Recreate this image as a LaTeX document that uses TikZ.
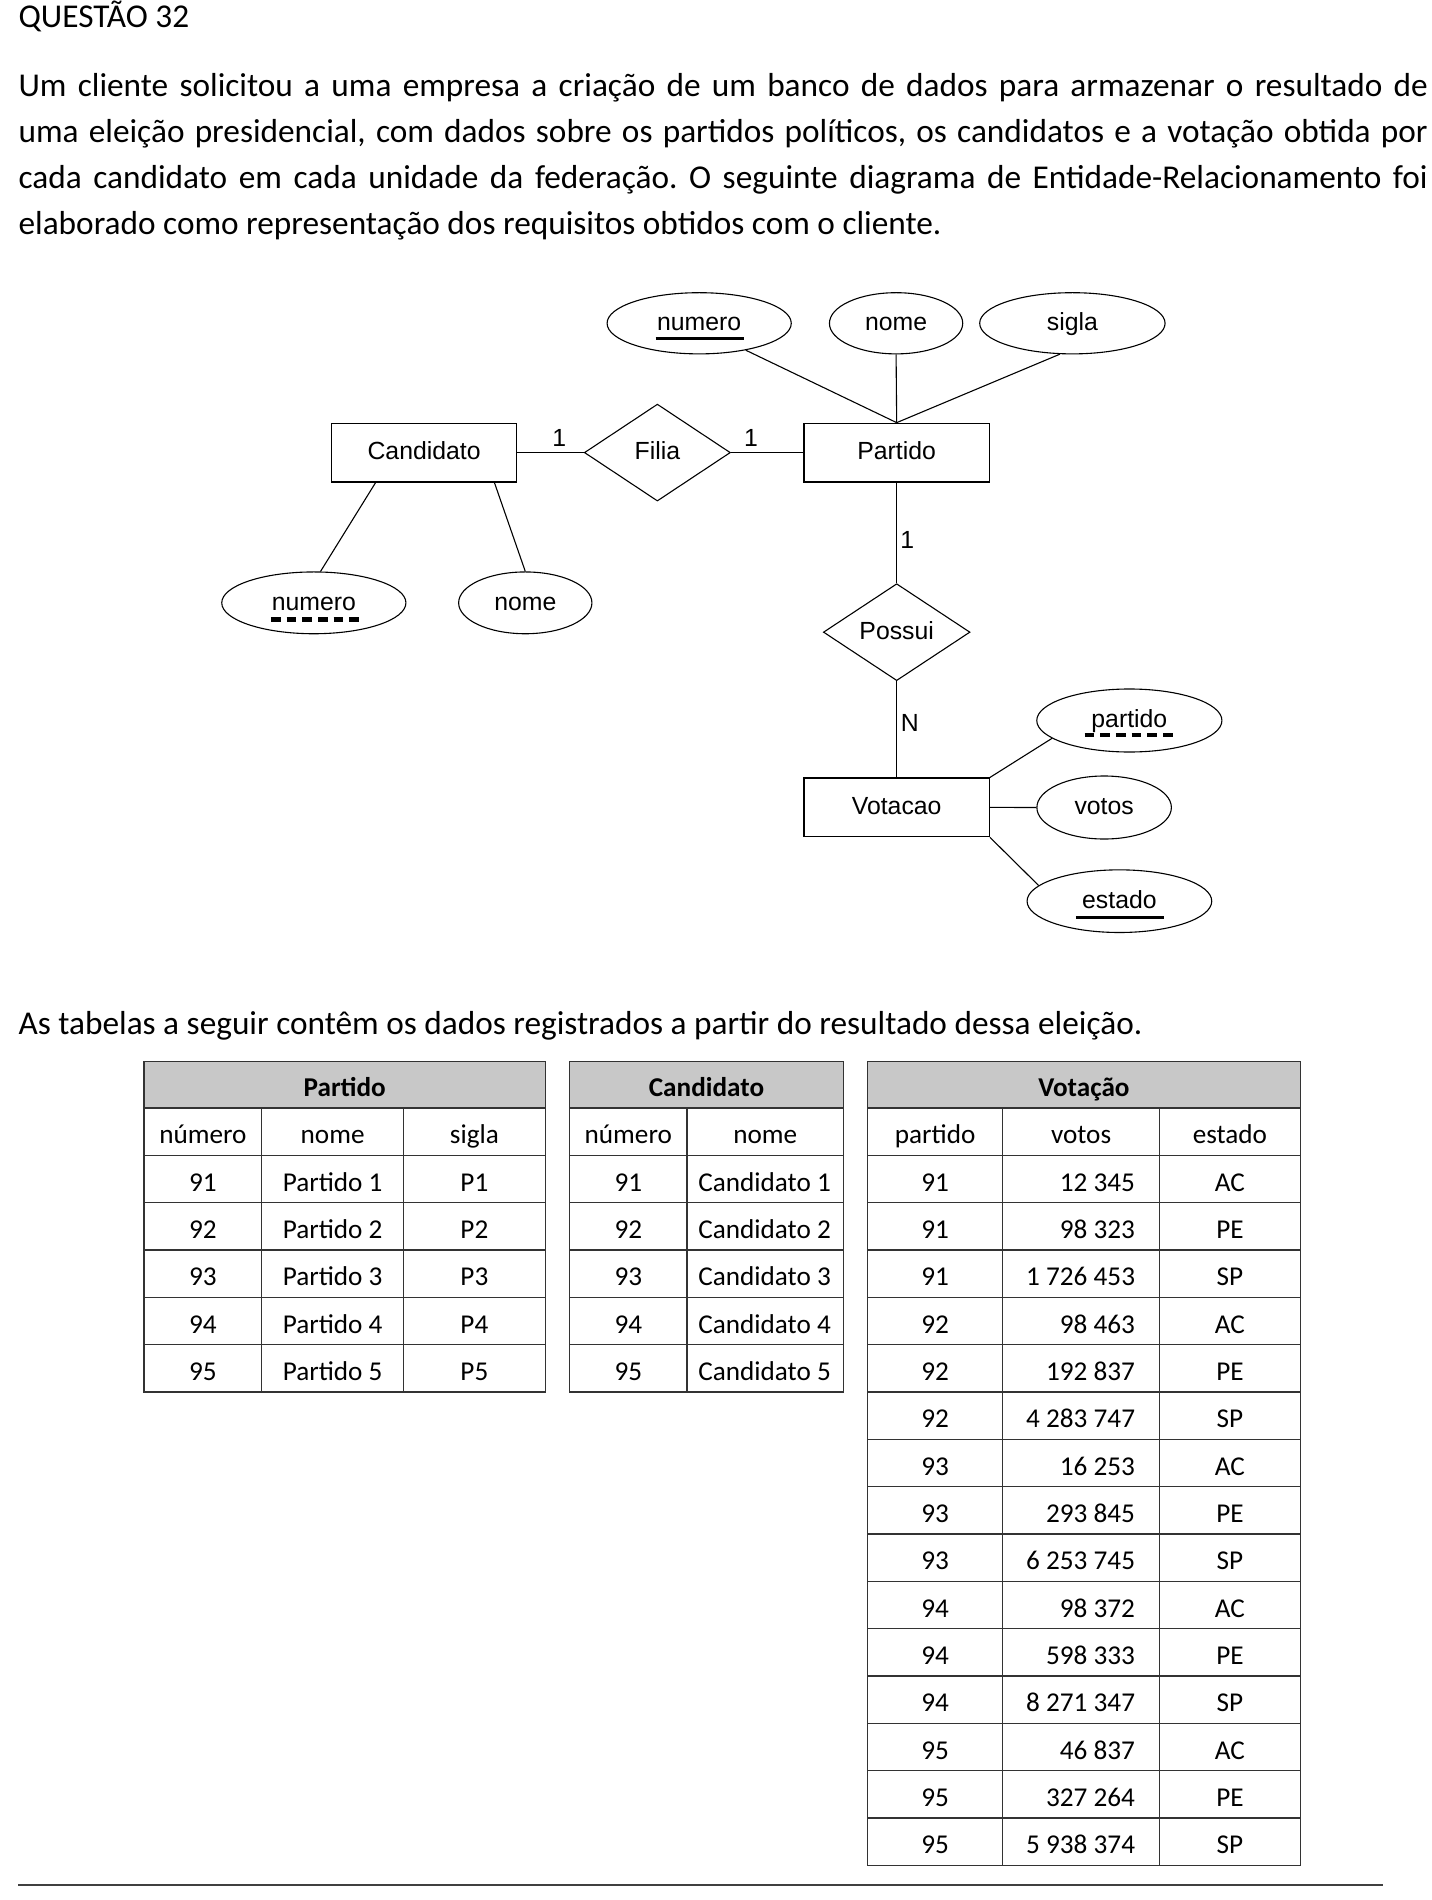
\documentclass[tikz,border=0pt]{standalone}
\usepackage{fontspec}
\setmainfont{Carlito}
\newfontfamily\erfam{Liberation Sans}
\usetikzlibrary{shapes.geometric,calc}
\frenchspacing
\newcommand\erfont{\erfam\fontsize{12.4}{14}\selectfont}
\newcommand\bodyfont{\fontsize{16.65}{20}\selectfont}
\newcommand\tabfont{\fontsize{13.6}{16}\selectfont}
\newcommand\pxu{0.606pt}
\definecolor{hdrgray}{HTML}{C8C8C8}
\definecolor{tabline}{HTML}{333333}
\begin{document}
\begin{tikzpicture}[x=0.606pt,y=-0.606pt]
\tikzset{
  er/.style={font=\erfont, text height=7.3pt, text depth=0pt, inner sep=0pt, line width=0.55pt},
  entity/.style={er, draw, rectangle, minimum width=153*\pxu, minimum height=48.5*\pxu},
  attrib/.style={er, draw, ellipse},
  relat/.style={er, draw, diamond, minimum width=120.5*\pxu, minimum height=80*\pxu},
  card/.style={font=\erfont, inner sep=0pt, anchor=base west},
  conn/.style={line width=0.55pt},
  keyline/.style={line width=1.65pt},
  weakkey/.style={line width=2.2pt, dash pattern=on 4.85pt off 3pt},
  bodytext/.style={font=\bodyfont, inner sep=0pt, anchor=base west},
  cell/.style={font=\tabfont, inner sep=0pt, anchor=base},
  cellr/.style={font=\tabfont, inner sep=0pt, anchor=base east},
  celll/.style={font=\tabfont, inner sep=0pt, anchor=base west},
  hcell/.style={font=\tabfont\bfseries, inner sep=0pt, anchor=base},
  grid/.style={draw=tabline, line width=0.7pt},
}
% page
\fill[white] (0,0) rectangle (1181,1568);
\useasboundingbox (0,0) rectangle (1181,1568);

% ---------- text ----------
\node[bodytext] (title) at (15,23) {QUESTÃO 32};
\node[bodytext] (l1) at (15,79.4) {\makebox[704.8pt][s]{Um cliente solicitou a uma empresa a criação de um banco de dados para armazenar o resultado de}};
\node[bodytext] (l2) at (15,117.4) {\makebox[704.8pt][s]{uma eleição presidencial, com dados sobre os partidos políticos, os candidatos e a votação obtida por}};
\node[bodytext] (l3) at (15,155.4) {\makebox[704.8pt][s]{cada candidato em cada unidade da federação. O seguinte diagrama de Entidade-Relacionamento foi}};
\node[bodytext] (l4) at (15,193.4) {elaborado como representação dos requisitos obtidos com o cliente.};
\node[bodytext] (l5) at (15,854) {As tabelas a seguir contêm os dados registrados a partir do resultado dessa eleição.};

% ---------- ER diagram ----------
\node[attrib, minimum width=152*\pxu, minimum height=50.5*\pxu] (numP) at (577,266.8) {numero};
\node[attrib, minimum width=110*\pxu, minimum height=50.5*\pxu] (nomP) at (739.5,266.8) {nome};
\node[attrib, minimum width=153*\pxu, minimum height=50.5*\pxu] (sigP) at (885,266.8) {sigla};

\node[entity] (cand) at (350,373.5) {Candidato};
\node[relat] (filia) at (542.5,373.5) {Filia};
\node[entity] (part) at (740,373.5) {Partido};

\node[attrib, minimum width=152*\pxu, minimum height=51*\pxu] (numC) at (259,497.5) {numero};
\node[attrib, minimum width=110*\pxu, minimum height=51*\pxu] (nomC) at (433.5,497.5) {nome};

\node[relat, minimum width=121*\pxu, minimum height=80*\pxu] (possui) at (740,521.7) {Possui};
\node[entity] (vot) at (740,666.3) {Votacao};

\node[attrib, minimum width=152.8*\pxu, minimum height=52*\pxu] (partV) at (932,594.6) {partido};
\node[attrib, minimum width=111*\pxu, minimum height=52*\pxu] (votV) at (911.2,666.4) {votos};
\node[attrib, minimum width=152.4*\pxu, minimum height=51.7*\pxu] (estV) at (923.8,743.7) {estado};

% connectors
\draw[conn] (part.north) -- (numP.330);
\draw[conn] (part.north) -- (nomP.south);
\draw[conn] (part.north) -- (sigP.248);
\draw[conn] (cand.east) -- (filia.west);
\draw[conn] (filia.east) -- (part.west);
\draw[conn] (part.south) -- (possui.north);
\draw[conn] (possui.south) -- (vot.north);
\coordinate (cL) at ($(cand.south)+(-40,0)$);
\coordinate (cR) at ($(cand.south)+(58,0)$);
\draw[conn] (cL) -- (numC.78);
\draw[conn] (cR) -- (nomC.north);
\draw[conn] (vot.north east) -- (partV.193);
\draw[conn] (vot.east) -- (votV.west);
\draw[conn] (vot.south east) -- (estV.169);

% cardinalities
\node[card] (c1) at (455.6,368.5) {1};
\node[card] (c2) at (613.8,368.5) {1};
\node[card] (c3) at (742.8,453) {1};
\node[card] (c4) at (743.2,603.7) {N};

% key underlines
\draw[keyline] ($(numP.center)+(-36,12.4)$) -- ($(numP.center)+(37,12.4)$);
\draw[keyline] ($(estV.center)+(-36,13.2)$) -- ($(estV.center)+(37,13.2)$);
\draw[weakkey] ($(numC.center)+(-35.4,13.7)$) -- ($(numC.center)+(37.6,13.7)$);
\draw[weakkey] ($(partV.center)+(-37,11.8)$) -- ($(partV.center)+(37.5,11.8)$);

% ---------- Table Partido ----------
\fill[hdrgray] (119,876) rectangle (450,914.5);
\draw[grid] (119,876) rectangle (450,1148.8);
\foreach \k in {0,...,5} \draw[grid] (119,{914.5+39.05*\k}) -- (450,{914.5+39.05*\k});
\draw[grid] (216,914.5) -- (216,1148.8);
\draw[grid] (333,914.5) -- (333,1148.8);
\node[hcell] (tPt) at (284.5,904.5) {Partido};
\node[cell] (tPh1) at (167.5,944) {número};
\node[cell] (tPh2) at (274.5,944) {nome};
\node[cell] (tPh3) at (391.5,944) {sigla};
\foreach \k in {1,...,5} {
  \node[cell] (tPa\k) at (167.5,{944+39.05*\k}) {9\k};
  \node[cell] (tPb\k) at (274.5,{944+39.05*\k}) {Partido \k};
  \node[cell] (tPc\k) at (391.5,{944+39.05*\k}) {P\k};
}

% ---------- Table Candidato ----------
\fill[hdrgray] (470,876) rectangle (696,914.5);
\draw[grid] (470,876) rectangle (696,1148.8);
\foreach \k in {0,...,5} \draw[grid] (470,{914.5+39.05*\k}) -- (696,{914.5+39.05*\k});
\draw[grid] (567,914.5) -- (567,1148.8);
\node[hcell] (tCt) at (583,904.5) {Candidato};
\node[cell] (tCh1) at (518.5,944) {número};
\node[cell] (tCh2) at (631.5,944) {nome};
\foreach \k in {1,...,5} {
  \node[cell] (tCa\k) at (518.5,{944+39.05*\k}) {9\k};
  \node[celll] (tCb\k) at (576,{944+39.05*\k}) {Candidato \k};
}

% ---------- Table Votacao ----------
\fill[hdrgray] (716,876) rectangle (1073,914.5);
\draw[grid] (716,876) rectangle (1073,1539.3);
\foreach \k in {0,...,15} \draw[grid] (716,{914.5+39.05*\k}) -- (1073,{914.5+39.05*\k});
\draw[grid] (827.5,914.5) -- (827.5,1539.3);
\draw[grid] (957,914.5) -- (957,1539.3);
\node[hcell] (tVt) at (894.5,904.5) {Votação};
\node[cell] (tVh1) at (771.8,944) {partido};
\node[cell] (tVh2) at (892.2,944) {votos};
\node[cell] (tVh3) at (1015,944) {estado};
\foreach \p/\v/\e [count=\k] in {91/12 345/AC,91/98 323/PE,91/1 726 453/SP,92/98 463/AC,92/192 837/PE,92/4 283 747/SP,93/16 253/AC,93/293 845/PE,93/6 253 745/SP,94/98 372/AC,94/598 333/PE,94/8 271 347/SP,95/46 837/AC,95/327 264/PE,95/5 938 374/SP} {
  \node[cell] (tVa\k) at (771.8,{944+39.05*\k}) {\p};
  \node[cellr] (tVb\k) at (937,{944+39.05*\k}) {\v};
  \node[cell] (tVc\k) at (1015,{944+39.05*\k}) {\e};
}

% bottom rule
\coordinate (rL) at (15,1556);
\coordinate (rR) at (1141,1556);
\draw[line width=1pt, black!75] (rL) -- (rR);
\end{tikzpicture}
\end{document}
